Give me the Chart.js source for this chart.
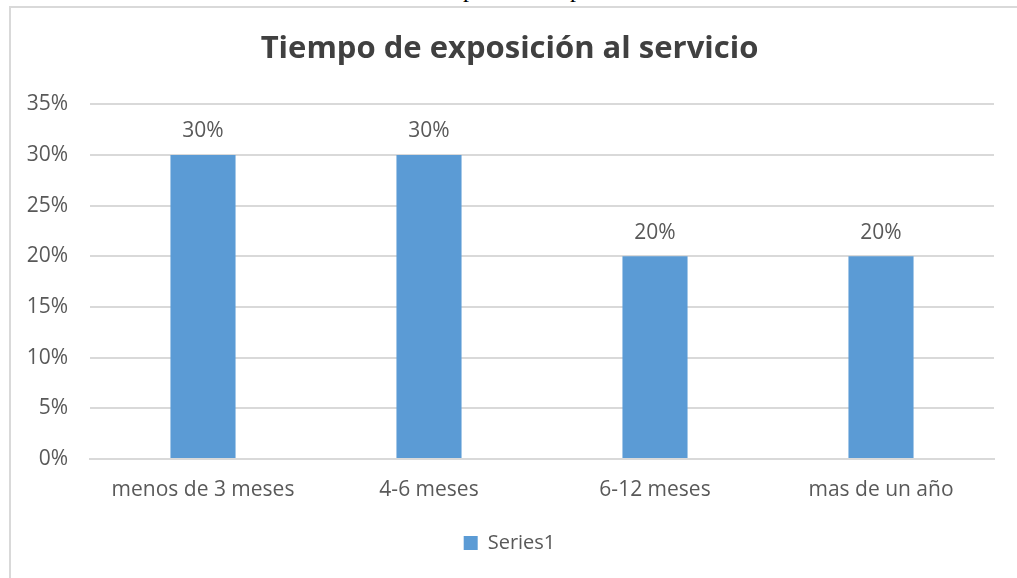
<!DOCTYPE html>
<html>
<head>
<meta charset="utf-8">
<script src="https://cdn.jsdelivr.net/npm/chart.js@4"></script>
<style>
  html, body { margin: 0; padding: 0; background: #fff; overflow: hidden; }
  body { width: 1017px; height: 578px; position: relative; }
  .cut { position: absolute; top: 0; left: 0; width: 1017px; height: 6px; overflow: hidden; }
  .cut span {
    position: absolute; top: -24px; font-family: "Liberation Serif", serif; font-size: 24px; color: #000;
  }
  #wrap { position: absolute; left: 0; top: 0; width: 1017px; height: 578px; }
</style>
</head>
<body>
<div class="cut"><span style="left:463px">p</span><span style="left:570px">p</span></div>
<div id="wrap"><canvas id="chart"></canvas></div>
<script>
// ─── DATA ──────────────────────────────────────────────────
const categories = ['menos de 3 meses', '4-6 meses', '6-12 meses', 'mas de un año'];
const seriesValues = [0.30, 0.30, 0.20, 0.20];
const yTicks = [0, 0.05, 0.10, 0.15, 0.20, 0.25, 0.30, 0.35];

const TEXT = '#595959';
const BAR = '#5B9BD5';
const GRID = '#d9d9d9';
const FONT = '"Open Sans", "Liberation Sans", sans-serif';

const pct = v => Math.round(v * 100) + '%';

// ─── CHART FRAME (left + top edge, rest runs off the page) ─
const frame = {
  id: 'frame',
  beforeDraw(chart) {
    const ctx = chart.ctx;
    ctx.save();
    ctx.strokeStyle = GRID;
    ctx.lineWidth = 2;
    ctx.beginPath();
    ctx.moveTo(10, chart.height);
    ctx.lineTo(10, 7);
    ctx.lineTo(chart.width, 7);
    ctx.stroke();
    ctx.restore();
  }
};

// ─── VALUE LABELS ABOVE BARS ───────────────────────────────
const barLabels = {
  id: 'barLabels',
  afterDatasetsDraw(chart) {
    const ctx = chart.ctx;
    const meta = chart.getDatasetMeta(0);
    ctx.save();
    ctx.font = '21px ' + FONT;
    ctx.fillStyle = TEXT;
    ctx.textAlign = 'center';
    ctx.textBaseline = 'bottom';
    meta.data.forEach((bar, i) => {
      ctx.fillText(pct(seriesValues[i]), bar.x, bar.y - 13);
    });
    ctx.restore();
  }
};

new Chart(document.getElementById('chart'), {
  type: 'bar',
  data: {
    labels: categories,
    datasets: [{
      label: 'Series1',
      data: seriesValues,
      backgroundColor: BAR,
      categoryPercentage: 1,
      barPercentage: 0.288
    }]
  },
  options: {
    responsive: true,
    maintainAspectRatio: false,
    animation: false,
    // left padding nudges the title/legend centre toward the off-page frame centre
    layout: { padding: { left: 25, right: 23, top: 0, bottom: 15 } },
    plugins: {
      title: {
        display: true,
        text: 'Tiempo de exposición al servicio',
        color: '#404040',
        font: { family: FONT, size: 31, weight: 'bold' },
        padding: { top: 31, bottom: 36 }
      },
      legend: {
        position: 'bottom',
        labels: {
          color: TEXT,
          font: { family: FONT, size: 20 },
          boxWidth: 14,
          boxHeight: 14,
          padding: 8
        }
      },
      tooltip: { enabled: false }
    },
    scales: {
      x: {
        grid: { display: false, drawTicks: false },
        border: { color: GRID, width: 2 },
        ticks: { color: TEXT, font: { family: FONT, size: 21 }, padding: 18, maxRotation: 0 },
        afterFit: s => { s.height = 66; }
      },
      y: {
        min: 0,
        max: 0.35,
        afterBuildTicks: s => { s.ticks = yTicks.map(v => ({ value: v })); },
        grid: { color: GRID, lineWidth: 2, drawTicks: false },
        border: { display: false },
        ticks: { color: TEXT, font: { family: FONT, size: 21 }, padding: 22, callback: v => pct(v) },
        afterFit: s => { s.width = 65; }
      }
    }
  },
  plugins: [frame, barLabels]
});
</script>
</body>
</html>
